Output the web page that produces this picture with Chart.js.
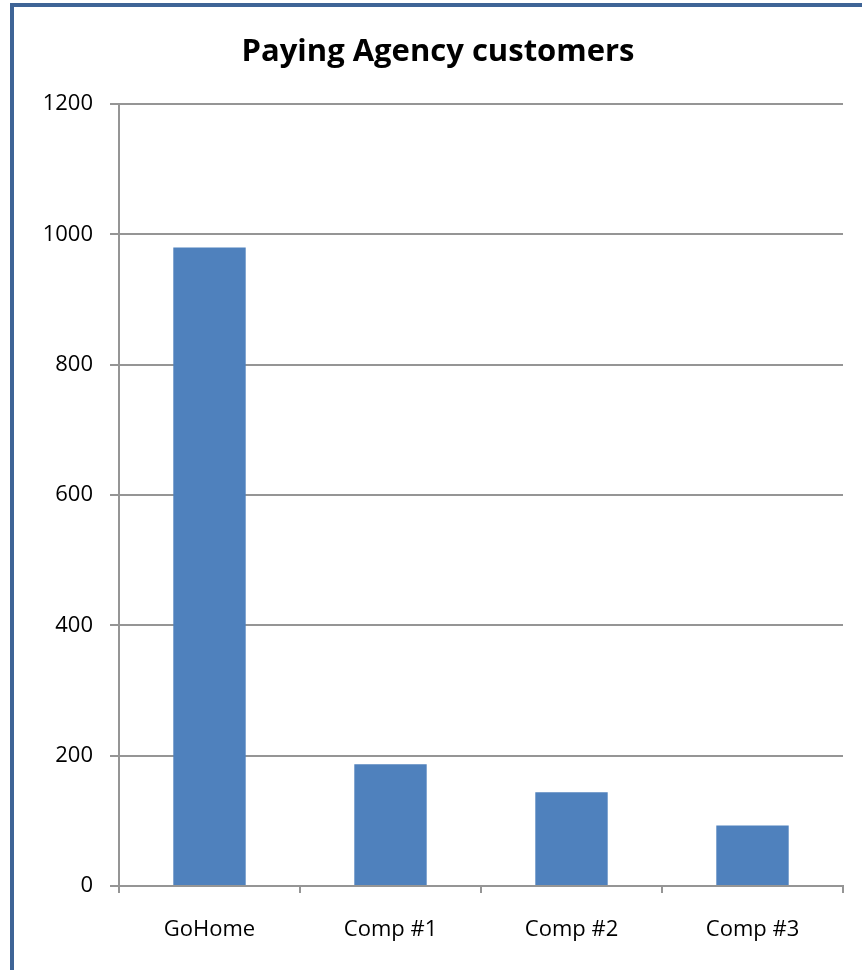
<!DOCTYPE html>
<html>
<head>
<meta charset="utf-8">
<script src="https://cdn.jsdelivr.net/npm/chart.js@4/dist/chart.umd.min.js"></script>
<style>
  body { margin: 0; background: #fff; }
  #frame {
    position: absolute; left: 10px; top: 3px;
    width: 852px; height: 967px;
    border-left: 4px solid #3E6496; border-top: 4px solid #3E6496;
    box-sizing: border-box;
  }
  canvas { display: block; }
</style>
</head>
<body>
<div id="frame"><canvas id="chart" width="848" height="963"></canvas></div>
<script>
// data
const categories = ['GoHome', 'Comp #1', 'Comp #2', 'Comp #3'];
const customers = [980, 187, 144, 93];
const yTicks = [0, 200, 400, 600, 800, 1000, 1200];

const gridGray = '#959595';

const ctx = document.getElementById('chart');
const myChart = new Chart(ctx, {
    type: 'bar',
    data: {
        labels: categories,
        datasets: [{
            label: 'Paying Agency customers',
            data: customers,
            backgroundColor: '#4F81BD',
            categoryPercentage: 1,
            barPercentage: 0.4,
        }]
    },
    options: {
        responsive: false,
        animation: false,
        plugins: {
            legend: { display: false },
            tooltip: { enabled: false },
            title: {
                display: true,
                text: 'Paying Agency customers',
                color: '#000',
                font: { family: 'Open Sans', size: 31, weight: 'bold' },
                padding: { top: 27, bottom: 33 },
            }
        },
        scales: {
            x: {
                grid: { display: true, drawOnChartArea: false, drawTicks: true, tickLength: 7, color: gridGray, lineWidth: 2 },
                border: { color: gridGray, width: 2 },
                ticks: { color: '#000', font: { family: 'Open Sans', size: 22 }, padding: 24 },
                afterFit: (scale) => { scale.height = 84; },
            },
            y: {
                min: yTicks[0],
                max: yTicks[yTicks.length - 1],
                afterBuildTicks: (scale) => { scale.ticks = yTicks.map(v => ({ value: v })); },
                grid: { color: gridGray, lineWidth: 2, tickLength: 9 },
                border: { color: gridGray, width: 2 },
                ticks: { color: '#000', font: { family: 'Open Sans', size: 22 }, padding: 17, callback: (v) => String(v) },
                afterFit: (scale) => { scale.width = 105; },
            },
            // empty spacer on the right so the title stays centred on the whole canvas
            spacer: {
                position: 'right',
                grid: { display: false },
                border: { display: false },
                ticks: { display: false },
                afterFit: (scale) => { scale.width = 19; },
            }
        }
    }
});
</script>
</body>
</html>
